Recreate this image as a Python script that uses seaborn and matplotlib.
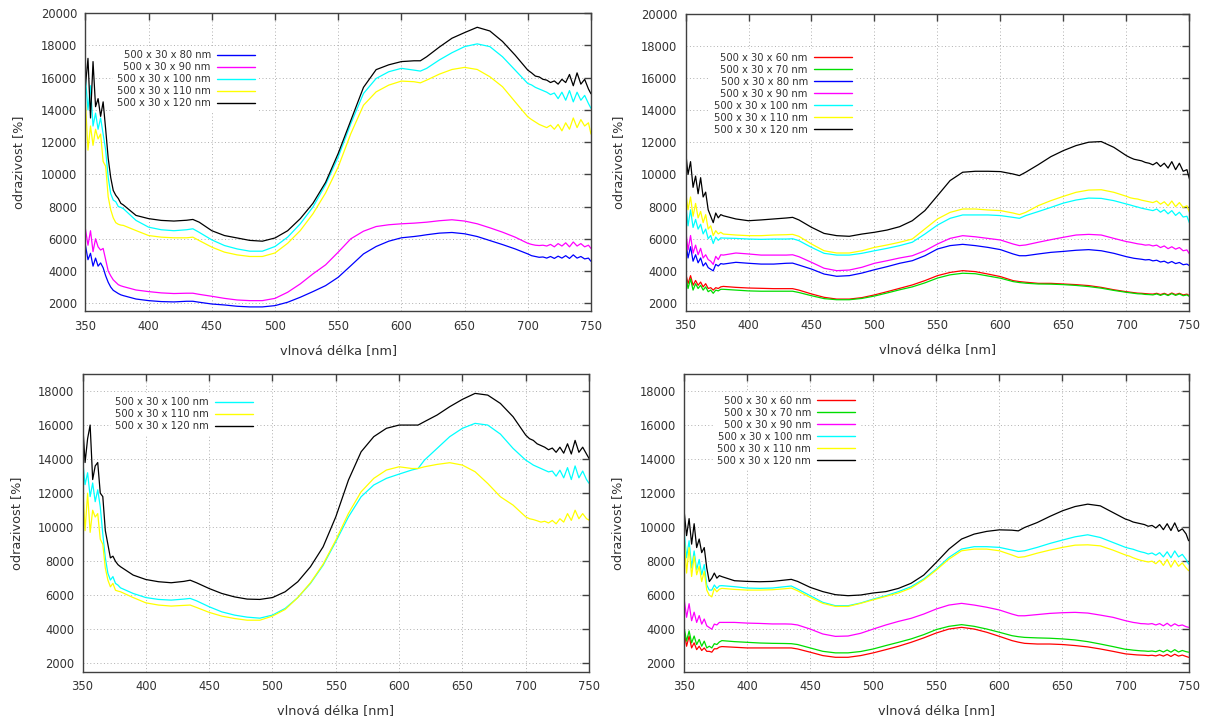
import matplotlib
matplotlib.use("Agg")
import matplotlib.pyplot as plt
import seaborn as sns
import pandas as pd

sns.set_theme(style="white")
plt.rcParams["font.family"] = ["DejaVu Sans"]

# wavelength grid [nm] (noisy start, smooth middle, noisy end)
wavelength = [350, 352, 354, 356, 358, 360, 362, 364, 366, 368, 370, 372, 374, 376, 378,
              380, 390, 400, 410, 420, 430, 435, 440, 450, 460, 470, 480, 490, 500,
              510, 520, 530, 540, 550, 560, 570, 580, 590, 600, 610, 615, 620, 630,
              640, 650, 660, 670, 680, 690, 700,
              703, 706, 709, 712, 715, 718, 721, 724, 727, 730, 733, 736, 739, 742,
              745, 748, 750]

# ---- top left ----
a_labels = ["500 x 30 x 80 nm", "500 x 30 x 90 nm", "500 x 30 x 100 nm",
            "500 x 30 x 110 nm", "500 x 30 x 120 nm"]
a_80 = [5600, 4700, 5100, 4300, 4800, 4300, 4500, 4200, 3700, 3300, 3000, 2800, 2700, 2600, 2520,
        2470, 2260, 2160, 2100, 2080, 2120, 2120, 2060, 1950, 1890, 1810, 1770, 1770, 1850,
        2060, 2370, 2720, 3090, 3610, 4330, 5060, 5520, 5850, 6060, 6140, 6190, 6250, 6350,
        6390, 6310, 6140, 5890, 5640, 5370, 5060,
        4950, 4900, 4850, 4870, 4800, 4900, 4780, 4920, 4800, 4950, 4780, 5000, 4800, 4900, 4750, 4800, 4600]
a_90 = [6600, 5600, 6500, 5200, 6000, 5500, 5300, 5400, 4700, 4000, 3700, 3450, 3300, 3150, 3080,
        3030, 2820, 2720, 2640, 2600, 2620, 2620, 2550, 2430, 2300, 2200, 2160, 2160, 2300,
        2680, 3200, 3820, 4380, 5170, 6000, 6470, 6760, 6870, 6930, 6970, 7000, 7030, 7120,
        7180, 7100, 6930, 6680, 6410, 6100, 5720,
        5650, 5600, 5580, 5600, 5550, 5650, 5500, 5700, 5550, 5750, 5500, 5800, 5550, 5700, 5500, 5600, 5400]
a_100 = [16000, 14000, 15500, 13000, 13800, 12800, 13500, 12500, 11500, 9800, 8800, 8400, 8300, 8000, 7950,
         7870, 7140, 6720, 6560, 6500, 6560, 6620, 6400, 5930, 5580, 5370, 5230, 5230, 5520,
         6100, 6930, 7970, 9360, 11080, 13150, 15020, 15950, 16370, 16580, 16470, 16410, 16580, 17100,
         17550, 17930, 18100, 17930, 17300, 16470, 15640,
         15550, 15400, 15300, 15200, 15100, 14950, 15050, 14700, 15100, 14600, 15200, 14500, 15100, 14600, 14900, 14400, 14100]
a_110 = [14500, 11500, 13000, 11800, 12800, 12200, 12500, 10800, 10500, 8600, 7800, 7300, 7000, 6900, 6850,
         6830, 6510, 6200, 6100, 6060, 6060, 6100, 5890, 5480, 5170, 5000, 4900, 4900, 5120,
         5720, 6510, 7550, 8840, 10460, 12530, 14290, 15120, 15540, 15790, 15750, 15680, 15850, 16220,
         16510, 16640, 16510, 16060, 15440, 14500, 13570,
         13400, 13250, 13100, 13000, 12900, 13050, 12800, 13100, 12700, 13200, 12800, 13500, 12900, 13400, 13000, 13200, 12500]
a_120 = [15500, 17200, 13500, 17000, 14200, 14700, 13600, 14500, 12800, 11000, 9800, 9000, 8700, 8500, 8200,
         8100, 7450, 7250, 7140, 7100, 7150, 7200, 7030, 6500, 6200, 6050, 5900, 5850, 6050,
         6500, 7250, 8200, 9500, 11300, 13350, 15400, 16500, 16800, 17000, 17050, 17050, 17300, 17900,
         18450, 18800, 19130, 18900, 18250, 17400, 16470,
         16300, 16100, 16050, 15900, 15850, 15700, 15800, 15600, 15900, 15700, 16200, 15500, 16300, 15600, 15900, 15300, 15000]

# ---- top right ----
b_labels = ["500 x 30 x 60 nm", "500 x 30 x 70 nm", "500 x 30 x 80 nm", "500 x 30 x 90 nm",
            "500 x 30 x 100 nm", "500 x 30 x 110 nm", "500 x 30 x 120 nm"]
b_60 = [3900, 3200, 3700, 3100, 3400, 3100, 3300, 3000, 3200, 2900, 2950, 2800, 2950, 2900, 3000,
        3030, 2970, 2930, 2910, 2890, 2890, 2890, 2800, 2560, 2350, 2240, 2240, 2330, 2500,
        2700, 2910, 3120, 3390, 3700, 3900, 4010, 3950, 3800, 3640, 3390, 3330, 3290, 3220,
        3220, 3180, 3140, 3080, 2970, 2820, 2700,
        2670, 2640, 2610, 2600, 2580, 2560, 2550, 2600, 2520, 2600, 2500, 2620, 2520, 2600, 2500, 2550, 2450]
b_70 = [3800, 2900, 3500, 2800, 3200, 2900, 3100, 2800, 3000, 2700, 2800, 2600, 2800, 2750, 2850,
        2850, 2800, 2750, 2730, 2730, 2730, 2730, 2650, 2450, 2270, 2200, 2200, 2280, 2430,
        2620, 2820, 3000, 3250, 3550, 3750, 3850, 3820, 3680, 3540, 3330, 3270, 3230, 3180,
        3170, 3140, 3090, 3020, 2920, 2780, 2660,
        2630, 2600, 2570, 2560, 2530, 2520, 2500, 2560, 2470, 2560, 2460, 2580, 2470, 2560, 2450, 2500, 2400]
b_80 = [6000, 4800, 5500, 4600, 5000, 4500, 4800, 4300, 4500, 4200, 4100, 4000, 4400, 4300, 4450,
        4420, 4530, 4470, 4420, 4420, 4470, 4480, 4360, 4110, 3800, 3660, 3700, 3860, 4070,
        4260, 4470, 4630, 4940, 5360, 5570, 5650, 5570, 5460, 5320, 5050, 4940, 4940, 5050,
        5150, 5210, 5280, 5320, 5250, 5090, 4880,
        4830, 4780, 4750, 4720, 4680, 4700, 4620, 4660, 4550, 4600, 4480, 4580, 4450, 4520, 4380, 4420, 4320]
b_90 = [6600, 5300, 6200, 5100, 5600, 5000, 5400, 4800, 5000, 4700, 4600, 4400, 4900, 4700, 5000,
        4980, 5110, 5050, 4980, 4980, 4980, 5000, 4880, 4530, 4160, 4010, 4050, 4220, 4470,
        4630, 4800, 4940, 5250, 5670, 6020, 6190, 6120, 6020, 5920, 5670, 5570, 5610, 5780,
        5940, 6090, 6230, 6270, 6230, 6020, 5820,
        5780, 5730, 5680, 5650, 5600, 5620, 5550, 5600, 5450, 5550, 5380, 5500, 5350, 5450, 5250, 5300, 5050]
b_100 = [8300, 6800, 7800, 6700, 7200, 6600, 6900, 6300, 6600, 6000, 6200, 5700, 6100, 5900, 6050,
         6040, 6020, 5980, 5960, 5980, 5980, 6000, 5880, 5460, 5090, 4980, 4980, 5090, 5250,
         5400, 5570, 5780, 6290, 6850, 7270, 7480, 7480, 7480, 7440, 7330, 7270, 7440, 7690,
         7950, 8220, 8410, 8530, 8510, 8370, 8160,
         8100, 8030, 7970, 7900, 7850, 7800, 7750, 7850, 7650, 7800, 7550, 7750, 7450, 7650, 7350, 7400, 6980]
b_110 = [9000, 7800, 8600, 7400, 8200, 7300, 7700, 7000, 7500, 6600, 6800, 6200, 6500, 6300, 6400,
         6290, 6230, 6190, 6190, 6230, 6250, 6270, 6150, 5670, 5250, 5110, 5110, 5250, 5460,
         5610, 5780, 5980, 6610, 7230, 7640, 7850, 7850, 7790, 7750, 7600, 7500, 7640, 8060,
         8370, 8640, 8890, 9030, 9050, 8890, 8640,
         8550, 8500, 8470, 8400, 8350, 8300, 8250, 8350, 8150, 8300, 8050, 8350, 8000, 8250, 7950, 8050, 7640]
b_120 = [11500, 10000, 10800, 9200, 9900, 8800, 9800, 8600, 8900, 7800, 7400, 7000, 7600, 7300, 7500,
         7430, 7230, 7120, 7170, 7230, 7290, 7330, 7170, 6710, 6330, 6190, 6150, 6290, 6400,
         6540, 6750, 7120, 7750, 8680, 9620, 10140, 10200, 10200, 10180, 10030, 9930, 10140, 10610,
         11110, 11490, 11800, 12010, 12050, 11690, 11170,
         11050, 10950, 10900, 10850, 10750, 10700, 10600, 10750, 10500, 10700, 10400, 10800, 10300, 10700, 10200, 10300, 9720]

# ---- bottom left ----
c_labels = ["500 x 30 x 100 nm", "500 x 30 x 110 nm", "500 x 30 x 120 nm"]
c_100 = [14000, 12500, 13200, 11800, 12600, 11500, 12200, 11200, 9600, 8200, 7300, 6900, 7100, 6700, 6600,
         6440, 6110, 5870, 5760, 5720, 5780, 5820, 5680, 5330, 5030, 4840, 4720, 4660, 4840,
         5230, 5870, 6700, 7770, 9150, 10610, 11790, 12480, 12870, 13120, 13360, 13450, 13940, 14630,
         15320, 15810, 16100, 16000, 15470, 14630, 13940,
         13800, 13650, 13550, 13450, 13350, 13250, 13300, 13000, 13350, 12900, 13500, 12800, 13600, 12900, 13300, 12800, 12580]
c_110 = [12500, 9800, 12000, 9700, 11000, 10600, 10800, 9300, 9000, 7600, 6900, 6500, 6700, 6300, 6250,
         6210, 5870, 5560, 5430, 5370, 5410, 5430, 5290, 5000, 4780, 4640, 4540, 4540, 4780,
         5170, 5870, 6740, 7830, 9240, 10810, 12080, 12870, 13360, 13550, 13450, 13450, 13550, 13690,
         13790, 13650, 13260, 12570, 11790, 11300, 10610,
         10500, 10450, 10380, 10300, 10350, 10250, 10400, 10200, 10500, 10300, 10800, 10400, 11000, 10500, 10800, 10500, 10420]
c_120 = [16200, 13800, 15200, 16000, 12800, 13600, 13800, 12000, 11800, 9800, 9000, 8200, 8300, 8000, 7800,
         7680, 7190, 6930, 6800, 6740, 6820, 6890, 6740, 6400, 6110, 5910, 5780, 5760, 5870,
         6210, 6800, 7680, 8850, 10610, 12770, 14430, 15320, 15810, 16000, 16000, 16000, 16200, 16590,
         17080, 17510, 17860, 17760, 17270, 16490, 15410,
         15200, 15100, 14900, 14800, 14700, 14550, 14650, 14400, 14700, 14350, 14900, 14300, 15100, 14400, 14700, 14300, 14040]

# ---- bottom right ----
d_labels = ["500 x 30 x 60 nm", "500 x 30 x 70 nm", "500 x 30 x 90 nm",
            "500 x 30 x 100 nm", "500 x 30 x 110 nm", "500 x 30 x 120 nm"]
d_60 = [3900, 3000, 3600, 2900, 3200, 2800, 3000, 2750, 2900, 2700, 2700, 2650, 2850, 2850, 2950,
        2980, 2940, 2900, 2900, 2900, 2900, 2900, 2840, 2650, 2450, 2350, 2350, 2450, 2610,
        2800, 3000, 3230, 3490, 3780, 4010, 4110, 4010, 3820, 3580, 3330, 3240, 3170, 3130,
        3130, 3100, 3040, 2960, 2840, 2700, 2550,
        2530, 2510, 2490, 2480, 2470, 2450, 2470, 2430, 2500, 2420, 2520, 2400, 2530, 2420, 2480, 2400, 2350]
d_70 = [4100, 3300, 3900, 3200, 3600, 3100, 3400, 3000, 3300, 2900, 3000, 2900, 3150, 3100, 3250,
        3330, 3270, 3230, 3190, 3170, 3160, 3150, 3100, 2900, 2700, 2610, 2610, 2690, 2840,
        3040, 3230, 3430, 3680, 3980, 4170, 4270, 4170, 4010, 3820, 3620, 3560, 3520, 3490,
        3470, 3430, 3370, 3270, 3130, 2980, 2820,
        2800, 2770, 2750, 2730, 2720, 2700, 2720, 2680, 2760, 2660, 2780, 2650, 2800, 2660, 2750, 2680, 2650]
d_90 = [5800, 4700, 5500, 4500, 5000, 4400, 4800, 4300, 4600, 4200, 4100, 4000, 4300, 4250, 4400,
        4400, 4400, 4360, 4340, 4310, 4310, 4300, 4250, 4010, 3720, 3580, 3600, 3760, 4010,
        4250, 4460, 4640, 4890, 5190, 5420, 5520, 5420, 5290, 5130, 4890, 4790, 4790, 4860,
        4930, 4970, 4990, 4950, 4830, 4700, 4500,
        4450, 4400, 4370, 4330, 4320, 4300, 4330, 4250, 4330, 4200, 4350, 4180, 4320, 4200, 4250, 4150, 4110]
d_100 = [9800, 8200, 9200, 7600, 8600, 7500, 8100, 7200, 7800, 6600, 6300, 6300, 6600, 6400, 6550,
         6560, 6500, 6420, 6400, 6420, 6500, 6540, 6360, 5970, 5580, 5380, 5380, 5540, 5770,
         5970, 6210, 6500, 6950, 7540, 8220, 8710, 8850, 8850, 8810, 8650, 8570, 8610, 8810,
         9040, 9240, 9430, 9550, 9390, 9100, 8810,
         8750, 8700, 8620, 8550, 8500, 8420, 8480, 8350, 8500, 8250, 8550, 8200, 8600, 8250, 8400, 8100, 7830]
d_110 = [9500, 7300, 8800, 7100, 8300, 7200, 7700, 6800, 7400, 6300, 6000, 5900, 6400, 6200, 6350,
         6400, 6340, 6300, 6300, 6320, 6380, 6420, 6260, 5870, 5520, 5340, 5340, 5520, 5730,
         5930, 6130, 6420, 6890, 7480, 8120, 8610, 8710, 8710, 8610, 8360, 8220, 8260, 8470,
         8650, 8810, 8940, 8960, 8900, 8650, 8360,
         8300, 8200, 8120, 8050, 8000, 7950, 8000, 7850, 8050, 7750, 8100, 7650, 8050, 7700, 7900, 7600, 7440]
d_120 = [11000, 9500, 10500, 9000, 10200, 8800, 9300, 8500, 8800, 7600, 6800, 7000, 7300, 7000, 7150,
         7090, 6850, 6810, 6790, 6810, 6890, 6930, 6810, 6460, 6210, 6030, 5970, 6010, 6130,
         6210, 6400, 6700, 7180, 7930, 8710, 9300, 9590, 9750, 9840, 9820, 9780, 9980, 10270,
         10630, 10960, 11210, 11350, 11250, 10860, 10470,
         10400, 10300, 10250, 10200, 10150, 10050, 10100, 9950, 10150, 9850, 10200, 9800, 10250, 9750, 9900, 9600, 9200]

RED, GREEN, BLUE, MAG, CYAN, YEL, BLK = "#ff0000", "#00dd00", "#0000ff", "#ff00ff", "#00ffff", "#ffff00", "#000000"


def panel(ax, labels, series, colors, ymax, anchor):
    df = pd.DataFrame({
        "wl": wavelength * len(series),
        "r": [v for s in series for v in s],
        "vzorek": [lab for lab, s in zip(labels, series) for _ in s],
    })
    sns.lineplot(data=df, x="wl", y="r", hue="vzorek", hue_order=labels,
                 palette=colors, estimator=None, sort=False, lw=0.9, ax=ax)
    handles, labs = ax.get_legend_handles_labels()
    leg = ax.legend(handles, labs, loc="upper right", bbox_to_anchor=anchor,
                    markerfirst=False, frameon=True, facecolor="white", edgecolor="none",
                    framealpha=1, fancybox=False, fontsize=7.2, handlelength=3.8,
                    handletextpad=0.6, labelspacing=0.2, borderpad=0.4, borderaxespad=0)
    for t in leg.get_texts():
        t.set_color("#333333")
    for h in leg.get_lines():
        h.set_linewidth(1.0)
    ax.set_xlim(350, 750)
    ax.set_ylim(1500, ymax)
    ax.set_xticks(range(350, 751, 50))
    ax.set_yticks(range(2000, int(ymax) + 1, 2000))
    ax.grid(True, linestyle=(0, (1, 2.5)), color="#b0b0b0", lw=0.7)
    ax.set_axisbelow(True)
    ax.tick_params(direction="in", top=True, right=True, length=5, width=1,
                   color="#404040", labelsize=8.3, labelcolor="#333333", pad=6)
    for s in ax.spines.values():
        s.set_color("#404040")
        s.set_linewidth(1.0)
    ax.set_xlabel("vlnová délka [nm]", fontsize=9.3, color="#333333", labelpad=8)
    ax.set_ylabel("odrazivost [%]", fontsize=9.3, color="#333333", labelpad=11)


fig = plt.figure(figsize=(12.12, 7.21), dpi=100)
ax1 = fig.add_axes([0.0705, 0.5683, 0.4171, 0.4133])
ax2 = fig.add_axes([0.5656, 0.5687, 0.4158, 0.4120])
ax3 = fig.add_axes([0.0681, 0.0680, 0.4179, 0.4133])
ax4 = fig.add_axes([0.5644, 0.0683, 0.4163, 0.4130])

panel(ax1, a_labels, [a_80, a_90, a_100, a_110, a_120], [BLUE, MAG, CYAN, YEL, BLK], 20000, (0.343, 0.890))
panel(ax2, b_labels, [b_60, b_70, b_80, b_90, b_100, b_110, b_120],
      [RED, GREEN, BLUE, MAG, CYAN, YEL, BLK], 20000, (0.338, 0.882))
panel(ax3, c_labels, [c_100, c_110, c_120], [CYAN, YEL, BLK], 19000, (0.344, 0.936))
panel(ax4, d_labels, [d_60, d_70, d_90, d_100, d_110, d_120],
      [RED, GREEN, MAG, CYAN, YEL, BLK], 19000, (0.347, 0.940))

fig.savefig("out.png", dpi=100)
